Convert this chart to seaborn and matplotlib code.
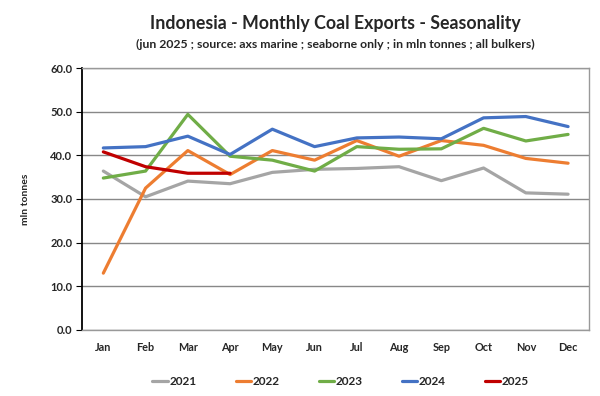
import numpy as np
import pandas as pd
import matplotlib
matplotlib.use("Agg")
import matplotlib.pyplot as plt
import seaborn as sns

months = ["Jan", "Feb", "Mar", "Apr", "May", "Jun", "Jul", "Aug", "Sep", "Oct", "Nov", "Dec"]
y2021 = [36.4, 30.5, 34.1, 33.5, 36.1, 36.8, 37.0, 37.4, 34.2, 37.1, 31.4, 31.1]
y2022 = [13.0, 32.5, 41.1, 35.6, 41.1, 38.9, 43.4, 39.8, 43.4, 42.3, 39.3, 38.2]
y2023 = [34.8, 36.4, 49.4, 39.8, 38.9, 36.4, 42.0, 41.4, 41.5, 46.2, 43.3, 44.8]
y2024 = [41.7, 42.0, 44.4, 40.2, 46.0, 42.0, 44.0, 44.2, 43.8, 48.6, 48.9, 46.6]
y2025 = [40.8, 37.4, 35.9, 35.9]

years = ["2021", "2022", "2023", "2024", "2025"]
colors = ["#A5A5A5", "#ED7D31", "#70AD47", "#4472C4", "#C00000"]
yticks = [0, 10, 20, 30, 40, 50, 60]

rows = []
for yr, vals in zip(years, [y2021, y2022, y2023, y2024, y2025]):
    for i, v in enumerate(vals):
        rows.append({"month": i, "year": yr, "value": v})
df = pd.DataFrame(rows)

sns.set_style("white")
plt.rcParams["font.family"] = ["Lato", "DejaVu Sans"]
plt.rcParams["font.weight"] = "bold"

fig = plt.figure(figsize=(6, 3.96), dpi=100)
ax = fig.add_axes([0.137, 0.167, 0.845, 0.661])

sns.lineplot(data=df, x="month", y="value", hue="year", palette=colors,
             linewidth=2.3, ax=ax, legend=True)

ax.set_xlim(-0.5, 11.5)
ax.set_ylim(0, 60)
ax.set_yticks(yticks)
ax.set_yticklabels([f"{t:.1f}" for t in yticks], fontsize=8, fontweight="bold")
ax.set_xticks(range(12))
ax.set_xticklabels(months, fontsize=7.8, fontweight="bold")
ax.tick_params(axis="x", length=0, pad=9)
ax.tick_params(axis="y", length=4, width=0.8, direction="out", color="black", pad=3, left=True)
ax.set_xlabel("")
ax.set_ylabel("mln tonnes", fontsize=7.5, fontweight="bold", labelpad=15)
ax.grid(axis="y", color="#888888", linewidth=1)
ax.set_axisbelow(True)

for s in ["top", "right", "bottom"]:
    ax.spines[s].set_color("#999999")
    ax.spines[s].set_linewidth(1)
ax.spines["left"].set_color("black")
ax.spines["left"].set_linewidth(1.3)

leg = ax.legend(loc="upper center", bbox_to_anchor=(0.51, -0.135), ncol=5, frameon=False,
                handlelength=1.3, handletextpad=0.15, columnspacing=3.3,
                prop={"size": 8.5, "weight": "bold"})

fig.text(0.559, 0.94, "Indonesia - Monthly Coal Exports - Seasonality",
         ha="center", va="center", fontsize=12.8, fontweight="bold")
fig.text(0.559, 0.888, "(jun 2025 ; source: axs marine ; seaborne only ; in mln tonnes ; all bulkers)",
         ha="center", va="center", fontsize=8.8, fontweight="bold")

fig.savefig("out.png", dpi=100)
